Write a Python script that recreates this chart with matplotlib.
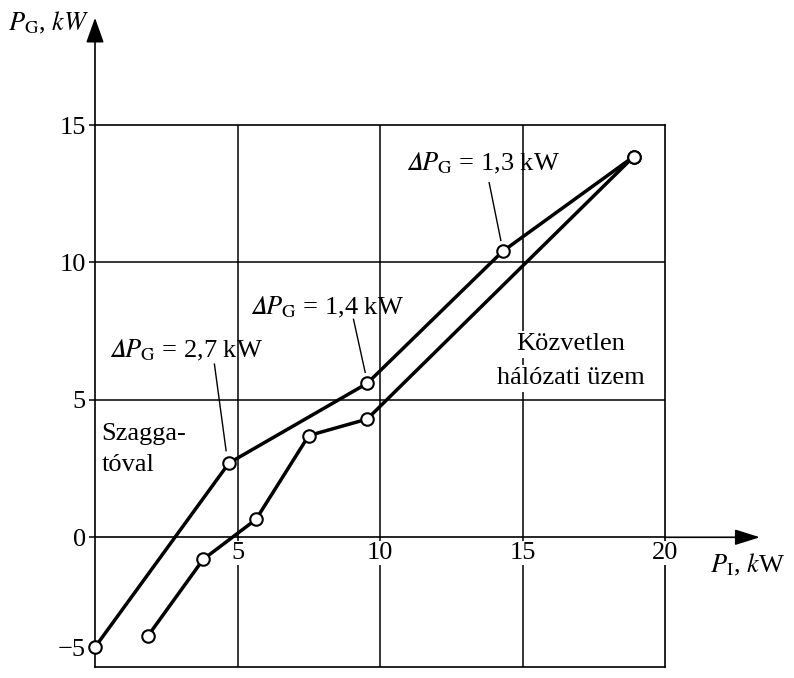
import numpy as np
import matplotlib
matplotlib.use('Agg')
import matplotlib.pyplot as plt

# ---------------- data ----------------
x_szaggato = [0.0, 4.7, 9.55, 14.3, 18.9]
y_szaggato = [-5.0, 2.7, 5.6, 10.4, 13.85]
x_halozati = [1.85, 3.8, 5.65, 7.5, 9.55, 18.9]
y_halozati = [-4.5, -1.0, 0.65, 3.7, 4.3, 13.85]

x_ticks = [5, 10, 15, 20]
x_tick_labels = ['5', '10', '15', '20']
y_ticks = [-5, 0, 5, 10, 15]
y_tick_labels = ['\u22125', '0', '5', '10', '15']
x_grid = [5, 10, 15]
y_grid = [5, 10]

delta_values = ['2,7', '1,4', '1,3']

# ---------------- style ----------------
plt.rcParams['font.family'] = ['Liberation Serif', 'DejaVu Serif']
plt.rcParams['mathtext.fontset'] = 'stix'
FS = 19

fig = plt.figure(figsize=(7.94, 6.78), dpi=100)
ax = fig.add_axes([95/794, 11/678, 570/794, 542/678])

NEG = 0.8
def fwd(y):
    y = np.asarray(y, float)
    return np.where(y < 0, y * NEG, y)
def inv(y):
    y = np.asarray(y, float)
    return np.where(y < 0, y / NEG, y)
ax.set_yscale('function', functions=(fwd, inv))

ax.set_xlim(0, 20)
ax.set_ylim(-5.9, 15)

for s in ax.spines.values():
    s.set_linewidth(1.2)
    s.set_color('black')

# grid lines
for gx in x_grid:
    ax.axvline(gx, color='black', lw=1.1, zorder=1)
for gy in y_grid:
    ax.axhline(gy, color='black', lw=1.1, zorder=1)
ax.axhline(0, color='black', lw=1.2, zorder=1)

# axes arrows
ax.annotate('', xy=(23.33, 0), xytext=(20, 0),
            arrowprops=dict(arrowstyle='-|>,head_length=0.7,head_width=0.22',
                            lw=1.2, color='black', mutation_scale=22,
                            shrinkA=0, shrinkB=0),
            annotation_clip=False)
ax.annotate('', xy=(0, 18.9), xytext=(0, 15),
            arrowprops=dict(arrowstyle='-|>,head_length=0.7,head_width=0.25',
                            lw=1.2, color='black', mutation_scale=22,
                            shrinkA=0, shrinkB=0),
            annotation_clip=False)

# ticks
ax.set_yticks(y_ticks)
ax.set_yticklabels(y_tick_labels, fontsize=FS)
ax.tick_params(axis='y', direction='out', length=4.5, width=1.1, pad=2)
ax.set_xticks([])
for xv, lab in zip(x_ticks, x_tick_labels):
    ax.annotate(lab, xy=(xv, 0), xytext=(0, -3.5), textcoords='offset points',
                ha='center', va='top', fontsize=FS, zorder=3,
                bbox=dict(boxstyle='square,pad=0.05', fc='white', ec='none'),
                annotation_clip=False)

# curves
ax.plot(x_szaggato, y_szaggato, color='black', lw=2.5, zorder=4,
        marker='o', ms=9, mfc='white', mec='black', mew=1.5, clip_on=False)
ax.plot(x_halozati, y_halozati, color='black', lw=2.5, zorder=4,
        marker='o', ms=9, mfc='white', mec='black', mew=1.5, clip_on=False)

# delta annotations: (text centre, leader start, leader end)
label_pos = [(3.18, 6.53), (8.15, 8.1), (13.6, 13.35)]
leader_start = [(4.19, 6.3), (9.07, 7.93), (13.83, 12.9)]
leader_end = [(4.6, 3.15), (9.48, 6.0), (14.24, 10.8)]
DELTA_IT = '\U0001D6E5'
for val, (tx, ty), (sx, sy), (ex, ey) in zip(delta_values, label_pos,
                                             leader_start, leader_end):
    ax.text(tx, ty, '$' + DELTA_IT + r'P_{\mathrm{G}}$ = ' + val + ' kW',
            ha='center', va='baseline', fontsize=FS, zorder=5)
    ax.plot([sx, ex], [sy, ey], color='black', lw=1.0, zorder=3)

ax.text(0.22, 3.55, 'Szagga-', ha='left', va='baseline', fontsize=FS, zorder=5)
ax.text(0.22, 2.4, 'tóval', ha='left', va='baseline', fontsize=FS, zorder=5)
ax.text(16.7, 6.8, 'Közvetlen', ha='center', va='baseline', fontsize=FS, zorder=5,
        bbox=dict(boxstyle='square,pad=0.1', fc='white', ec='none'))
ax.text(16.7, 5.57, 'hálózati üzem', ha='center', va='baseline', fontsize=FS, zorder=5,
        bbox=dict(boxstyle='square,pad=0.1', fc='white', ec='none'))

# axis labels
fig.text(8/794, 1 - 30/678, r'$P_{\mathrm{G}}$, $kW$', ha='left', va='baseline',
         fontsize=FS)
fig.text(710/794, 1 - 572/678, r'$P_{\mathrm{I}}$, $k$W', ha='left', va='baseline',
         fontsize=FS)

fig.savefig('out.png', dpi=100)
